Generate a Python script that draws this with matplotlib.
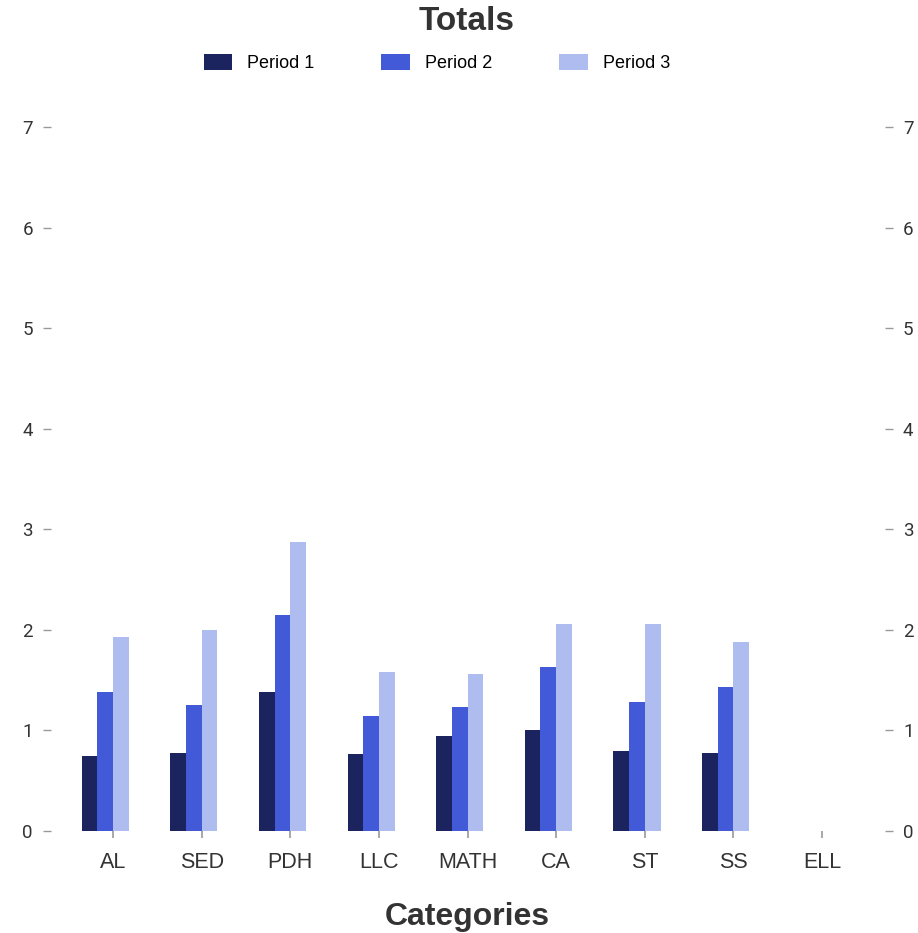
import numpy as np
import matplotlib
matplotlib.use("Agg")
import matplotlib.pyplot as plt
from matplotlib.patches import Patch

categories = ["AL", "SED", "PDH", "LLC", "MATH", "CA", "ST", "SS", "ELL"]
period1 = [0.75, 0.78, 1.38, 0.77, 0.945, 1.00, 0.80, 0.78, 0]
period2 = [1.38, 1.25, 2.15, 1.14, 1.23, 1.63, 1.28, 1.43, 0]
period3 = [1.93, 2.00, 2.87, 1.58, 1.56, 2.06, 2.06, 1.88, 0]
series = ["Period 1", "Period 2", "Period 3"]
colors = ["#1b245e", "#435ad8", "#afbcf0"]

plt.rcParams['font.family'] = ['Liberation Sans', 'DejaVu Sans']
text_col = "#333333"
tick_col = "#999999"

fig = plt.figure(figsize=(9.18, 9.33), dpi=100)
ax = fig.add_axes([51/918, 102/933, 834/918, 704/933])

x = np.arange(len(categories))
w = 0.177
for i, (vals, name, c) in enumerate(zip([period1, period2, period3], series, colors)):
    ax.bar(x + (i - 2) * w, vals, width=w, align='edge', color=c, label=name)

ax.set_xlim(-0.70, 8.71)
ax.set_ylim(0, 7)
ax.set_xticks(x)
ax.set_xticklabels(categories)
ax.set_yticks(range(0, 8))

for s in ax.spines.values():
    s.set_visible(False)

ax.tick_params(axis='x', length=5, width=1.2, color=tick_col, labelsize=15.5,
               labelcolor=text_col, pad=10)
ax.tick_params(axis='y', length=6, width=1, color=tick_col, labelsize=13.5,
               labelcolor=text_col, pad=7, left=True, right=True,
               labelleft=True, labelright=True)
for lab in ax.get_yticklabels():
    lab.set_family('Roboto')

fig.text(467/918, 1 - 22/933, "Totals", ha='center', va='center',
         fontsize=24, fontweight='bold', color=text_col)
fig.text(467/918, 1 - 917/933, "Categories", ha='center', va='center',
         fontsize=23, fontweight='bold', color=text_col)

handles = [Patch(facecolor=c, label=n) for c, n in zip(colors, series)]
fig.legend(handles=handles, loc='center', bbox_to_anchor=(437/918, 1 - 63/933),
           ncol=3, frameon=False, fontsize=13, handlelength=1.6,
           handleheight=1.05, handletextpad=0.83, columnspacing=3.7)

fig.savefig("out.png", dpi=100)
